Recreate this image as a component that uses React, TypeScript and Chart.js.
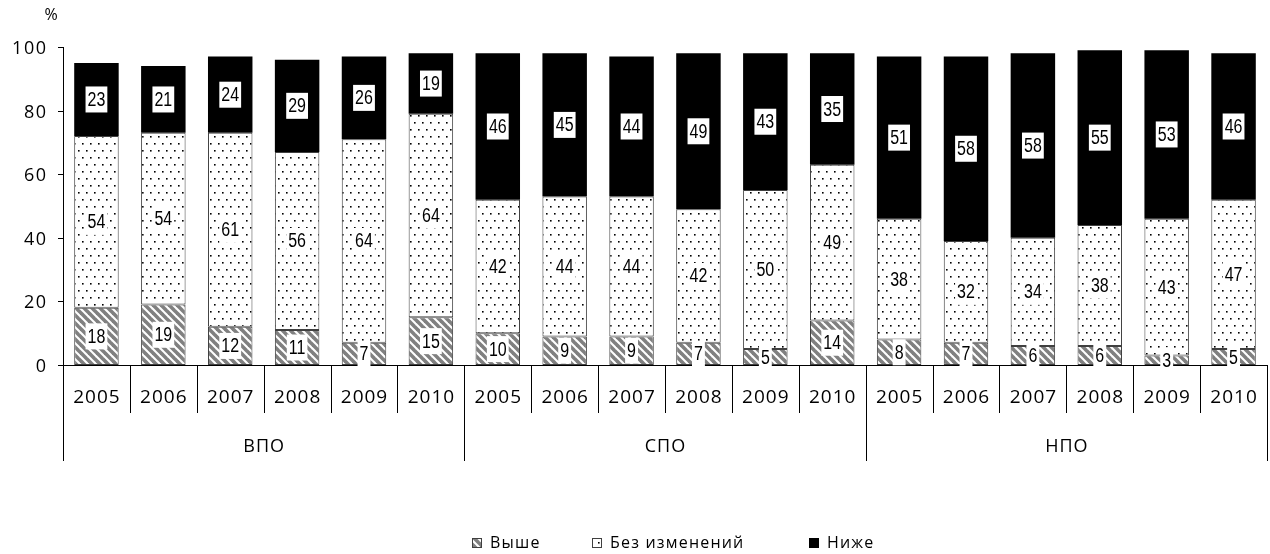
import { useEffect, useRef } from 'react';
import { Chart, registerables } from 'chart.js';
Chart.register(...registerables);

const years = ['2005', '2006', '2007', '2008', '2009', '2010'];
const groups = ['ВПО', 'СПО', 'НПО'];
const seriesNames = ['Выше', 'Без изменений', 'Ниже'];
const higher = [18, 19, 12, 11, 7, 15, 10, 9, 9, 7, 5, 14, 8, 7, 6, 6, 3, 5];
const same = [54, 54, 61, 56, 64, 64, 42, 44, 44, 42, 50, 49, 38, 32, 34, 38, 43, 47];
const lower = [23, 21, 24, 29, 26, 19, 46, 45, 44, 49, 43, 35, 51, 58, 58, 55, 53, 46];
const yTicks = [0, 20, 40, 60, 80, 100];

const AXIS_FONT = '"Open Sans", "DejaVu Sans", sans-serif';

function makeStripeTile(): HTMLCanvasElement {
  const c = document.createElement('canvas');
  c.width = 8;
  c.height = 8;
  const g = c.getContext('2d')!;
  g.fillStyle = '#ffffff';
  g.fillRect(0, 0, 8, 8);
  g.strokeStyle = '#808080';
  g.lineWidth = 3.6;
  for (const off of [-8, 0, 8]) {
    g.beginPath();
    g.moveTo(off - 2, -2);
    g.lineTo(off + 10, 10);
    g.stroke();
  }
  return c;
}

function makeDotTile(): HTMLCanvasElement {
  const c = document.createElement('canvas');
  c.width = 8;
  c.height = 14;
  const g = c.getContext('2d')!;
  g.fillStyle = '#ffffff';
  g.fillRect(0, 0, 8, 14);
  g.fillStyle = '#000000';
  g.fillRect(2, 3, 1.6, 1.6);
  g.fillRect(6, 10, 1.6, 1.6);
  return c;
}

function spacedText(
  ctx: CanvasRenderingContext2D,
  text: string,
  x: number,
  y: number,
  size: number,
  spacing: number,
  align: CanvasTextAlign
) {
  ctx.save();
  ctx.font = `${size}px ${AXIS_FONT}`;
  (ctx as any).letterSpacing = `${spacing}px`;
  ctx.fillStyle = '#000';
  ctx.textBaseline = 'middle';
  ctx.textAlign = align;
  let dx = 0;
  if (align === 'center') dx = spacing / 2;
  if (align === 'right') dx = spacing;
  ctx.fillText(text, x + dx, y);
  ctx.restore();
}

export default function App() {
  const ref = useRef<HTMLCanvasElement>(null);

  useEffect(() => {
    document.body.style.margin = '0';
    const canvas = ref.current!;
    const ctx = canvas.getContext('2d')!;
    const stripeTile = makeStripeTile();
    const dotTile = makeDotTile();
    const stripes = ctx.createPattern(stripeTile, 'repeat')!;
    const dots = ctx.createPattern(dotTile, 'repeat')!;

    const labels = groups.flatMap((g) => years.map((y) => `${g} ${y}`));

    const overlay = {
      id: 'overlay',
      afterDatasetsDraw(chart: any) {
        const c = chart.ctx as CanvasRenderingContext2D;
        chart.data.datasets.forEach((ds: any, di: number) => {
          const meta = chart.getDatasetMeta(di);
          meta.data.forEach((bar: any, i: number) => {
            const { x, y, base } = bar.getProps(['x', 'y', 'base'], true);
            const cy = (y + base) / 2;
            const txt = String(ds.data[i]);
            c.save();
            c.font = '20px "Liberation Sans", Arial, sans-serif';
            const w = c.measureText(txt).width * 0.8;
            c.fillStyle = '#ffffff';
            c.fillRect(x - w / 2 - 2, cy - 13, w + 4, 26);
            c.translate(x, cy + 1);
            c.scale(0.8, 1);
            c.fillStyle = '#000';
            c.textAlign = 'center';
            c.textBaseline = 'middle';
            c.fillText(txt, 0, 0);
            c.restore();
          });
        });
      },
      afterDraw(chart: any) {
        const c = chart.ctx as CanvasRenderingContext2D;
        const ys = chart.scales.y;
        const area = chart.chartArea;
        const left = area.left;
        const right = area.right;
        const bottom = area.bottom;
        const n = labels.length;
        const cw = (right - left) / n;

        c.save();
        c.strokeStyle = '#000';
        c.lineWidth = 1;
        // y ticks
        yTicks.forEach((v) => {
          const py = Math.round(ys.getPixelForValue(v)) + 0.5;
          c.beginPath();
          c.moveTo(left - 5, py);
          c.lineTo(left, py);
          c.stroke();
          spacedText(c, String(v), 46, py + 1, 18, 1.5, 'right');
        });
        spacedText(c, '%', 51, 15, 16, 0, 'center');

        // category separators
        for (let i = 0; i <= n; i++) {
          const px = Math.round(left + i * cw) + 0.5;
          const isGroup = i % years.length === 0;
          c.beginPath();
          c.moveTo(px, bottom);
          c.lineTo(px, isGroup ? 461 : 413);
          c.stroke();
        }
        c.restore();

        // year labels
        labels.forEach((_, i) => {
          const cx = left + (i + 0.5) * cw;
          spacedText(c, years[i % years.length], cx, 398, 19, 1, 'center');
        });
        // group labels
        groups.forEach((g, gi) => {
          const cx = left + (gi * years.length + years.length / 2) * cw;
          spacedText(c, g, cx, 447, 18, 1, 'center');
        });

        // legend
        const legendY = 543;
        const items: { x: number; fill: any; border: string }[] = [
          { x: 472, fill: stripes, border: '#404040' },
          { x: 592, fill: dots, border: '#404040' },
          { x: 809, fill: '#000', border: '#000' },
        ];
        items.forEach((it, k) => {
          c.save();
          c.fillStyle = it.fill;
          c.fillRect(it.x, legendY - 5, 10, 10);
          c.strokeStyle = it.border;
          c.lineWidth = 1;
          c.strokeRect(it.x + 0.5, legendY - 4.5, 9, 9);
          c.restore();
          spacedText(c, seriesNames[k], it.x + 18, legendY, 16, 1.2, 'left');
        });
      },
    };

    const chart = new Chart(canvas, {
      type: 'bar',
      data: {
        labels,
        datasets: [
          {
            label: seriesNames[0],
            data: higher,
            backgroundColor: stripes as any,
            borderColor: '#404040',
            borderWidth: 1,
            borderSkipped: false,
          },
          {
            label: seriesNames[1],
            data: same,
            backgroundColor: dots as any,
            borderColor: '#404040',
            borderWidth: 1,
            borderSkipped: false,
          },
          {
            label: seriesNames[2],
            data: lower,
            backgroundColor: '#000000',
            borderWidth: 0,
          },
        ],
      },
      options: {
        responsive: false,
        animation: false,
        layout: { padding: { top: 47, right: 3, left: 0, bottom: 0 } },
        plugins: { legend: { display: false }, tooltip: { enabled: false } },
        datasets: { bar: { barPercentage: 0.665, categoryPercentage: 1 } },
        scales: {
          x: {
            stacked: true,
            ticks: { display: false },
            grid: { display: false },
            border: { color: '#000', width: 1 },
            afterFit: (s: any) => {
              s.height = 189;
            },
          },
          y: {
            stacked: true,
            min: 0,
            max: 100,
            ticks: { display: false, stepSize: 20 },
            grid: { display: false },
            border: { color: '#000', width: 1 },
            afterFit: (s: any) => {
              s.width = 63;
            },
          },
        },
      } as any,
      plugins: [overlay],
    });

    return () => chart.destroy();
  }, []);

  return <canvas ref={ref} width={1270} height={554} style={{ display: 'block' }} />;
}
